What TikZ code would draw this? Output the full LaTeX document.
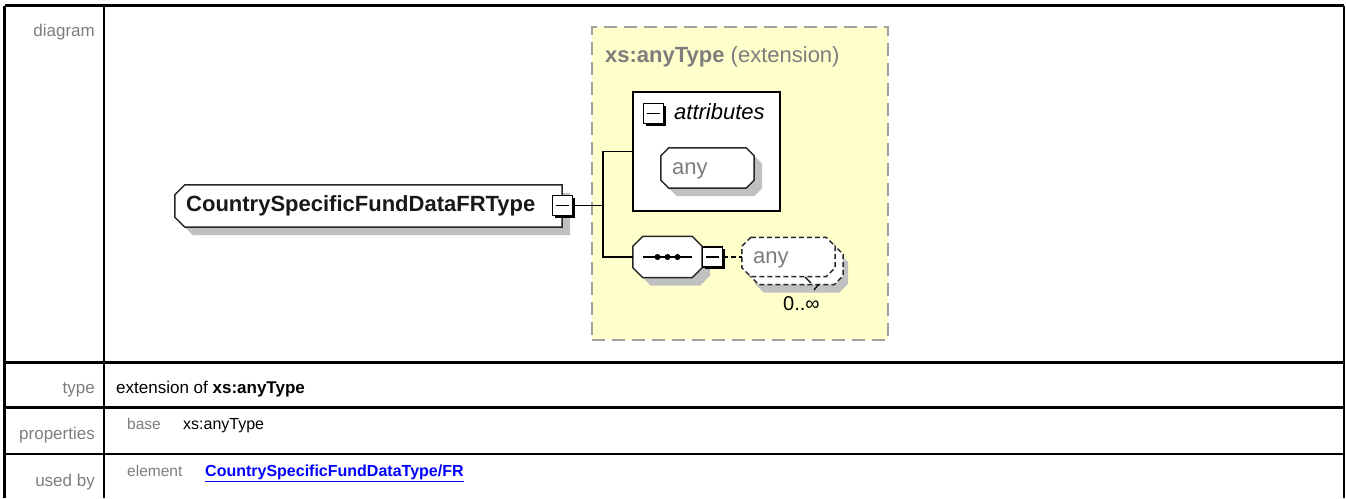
\documentclass[tikz,border=0pt]{standalone}
\usepackage{fontspec}
\setmainfont{Liberation Sans}
\usetikzlibrary{shadows}
\definecolor{panelfill}{RGB}{255,255,204}
\definecolor{panelrule}{RGB}{160,160,160}
\definecolor{labelgray}{RGB}{125,125,125}
\definecolor{shadowgray}{RGB}{192,192,192}
\definecolor{linkblue}{RGB}{0,0,255}
\newcommand{\octpath}[2]{([xshift=#2]#1.north west) -- ([xshift=-#2]#1.north east) -- ([yshift=-#2]#1.north east) -- ([yshift=#2]#1.south east) -- ([xshift=-#2]#1.south east) -- ([xshift=#2]#1.south west) -- ([yshift=#2]#1.south west) -- ([yshift=-#2]#1.north west) -- cycle}
\begin{document}
\begin{tikzpicture}[x=1pt,y=-1pt,rowrule/.style={line width=2.5pt},caption/.style={font=\fontsize{17}{20}\selectfont,text=labelgray,anchor=base east,inner sep=0pt},cell/.style={font=\fontsize{17}{20}\selectfont,anchor=base west,inner sep=0pt},key/.style={font=\fontsize{15.5}{18}\selectfont,text=labelgray,anchor=base west,inner sep=0pt},tag/.style={font=\fontsize{22}{26}\selectfont,anchor=base west,inner sep=0pt},frame/.style={rectangle,inner sep=0pt},octline/.style={draw=black!85,fill=white,line width=1.5pt},octshade/.style={fill=shadowgray,transform canvas={shift={(8pt,-8pt)}}},wild/.style={dash pattern=on 5pt off 3pt},button/.style={rectangle,draw,fill=white,line width=1.8pt,minimum size=20pt,inner sep=0pt,drop shadow={shadow xshift=2pt,shadow yshift=-2pt,fill=black,opacity=1}},link/.style={line width=1.5pt}]
\useasboundingbox (0,0) rectangle (1346,498);
\draw[line width=3pt] (4.5,5.5) -- (1344,5.5);
\draw[rowrule] (4.5,498) -- (4.5,5.5);
\draw[rowrule] (1344,5.5) -- (1344,498);
\draw[rowrule] (104,5.5) -- (104,498);
\draw[rowrule] (4.5,362.5) -- (1344,362.5);
\draw[rowrule] (4.5,407.5) -- (1344,407.5);
\draw[rowrule] (4.5,454) -- (1344,454);
\node[caption] (capdiagram) at (95,36) {diagram};
\node[caption] (captype) at (95,393) {type};
\node[caption] (capprops) at (95,439) {properties};
\node[caption] (capused) at (95,486) {used by};
\node[draw=panelrule,fill=panelfill,line width=2pt,dash pattern=on 13pt off 7pt,minimum width=296pt,minimum height=313pt,inner sep=0pt] (ext) at (740,183.5) {};
\node[tag,text=labelgray] (exttitle) at (605,62) {\textbf{xs:anyType} (extension)};
\node[frame,minimum width=387pt,minimum height=42pt] (elem) at (368.5,206) {};
\fill[octshade] ([xshift=10pt]elem.north west) -- (elem.north east) -- (elem.south east) -- ([xshift=10pt]elem.south west) -- ([yshift=10pt]elem.south west) -- ([yshift=-10pt]elem.north west) -- cycle;
\draw[octline] ([xshift=10pt]elem.north west) -- (elem.north east) -- (elem.south east) -- ([xshift=10pt]elem.south west) -- ([yshift=10pt]elem.south west) -- ([yshift=-10pt]elem.north west) -- cycle;
\node[tag,font=\fontsize{22}{26}\selectfont\bfseries,text=black!90] (elemname) at (186,211) {CountrySpecificFundDataFRType};
\node[button] (elembtn) at (562.5,205.5) {};
\draw[link] ([xshift=4pt]elembtn.west) -- ([xshift=-4pt]elembtn.east);
\node[draw,fill=white,line width=1.6pt,minimum width=147pt,minimum height=119pt,inner sep=0pt] (attrs) at (706.5,151.5) {};
\node[button] (attrbtn) at (653.5,113.5) {};
\draw[link] ([xshift=4pt]attrbtn.west) -- ([xshift=-4pt]attrbtn.east);
\node[tag,font=\fontsize{22}{26}\selectfont\itshape] (attrlabel) at (674,119) {attributes};
\node[frame,minimum width=93pt,minimum height=40pt] (anyattr) at (707.5,168) {};
\fill[octshade] \octpath{anyattr}{8pt};
\draw[octline] \octpath{anyattr}{8pt};
\node[tag,text=labelgray] (anyattrlabel) at (672,174) {any};
\node[frame,minimum width=69pt,minimum height=41pt] (seq) at (667.5,257) {};
\fill[octshade] \octpath{seq}{10pt};
\draw[octline] \octpath{seq}{10pt};
\draw[link] ([xshift=10pt]seq.west) -- ([xshift=-10pt]seq.east);
\foreach \dx in {-10,0,10}
  \fill ([xshift=\dx pt]seq.center) circle (3pt);
\node[button] (seqbtn) at (712.5,257) {};
\draw[link] ([xshift=4pt]seqbtn.west) -- ([xshift=-4pt]seqbtn.east);
\coordinate (fork) at (603,205.5);
\draw[link] (elembtn.east) -- (fork);
\draw[link] (attrs.west) -| (fork) |- (seq.west);
\node[frame,minimum width=93pt,minimum height=39pt] (anyelback) at (796.5,265) {};
\node[frame,minimum width=93pt,minimum height=39pt] (anyel) at (788.5,257) {};
\fill[shadowgray,transform canvas={shift={(5pt,-8pt)}}] \octpath{anyelback}{9pt};
\draw[octline,wild] \octpath{anyelback}{9pt};
\draw[octline,wild] \octpath{anyel}{9pt};
\draw[link,wild] (seqbtn.east) -- (anyel.west);
\node[tag,text=labelgray] (anyellabel) at (753,263) {any};
\draw[line width=1.2pt] (805,277) -- (811,283);
\draw[line width=1.2pt] (819,284) -- (814,290);
\node[tag,font=\fontsize{20}{24}\selectfont] (mult) at (783,310) {0..∞};
\node[cell] (typeval) at (116,393) {extension of \textbf{xs:anyType}};
\node[key] (basekey) at (127,429) {base};
\node[cell,font=\fontsize{16}{19}\selectfont] (baseval) at (183,429) {xs:anyType};
\node[key] (usedkey) at (127,476) {element};
\node[cell,font=\fontsize{16}{19}\selectfont\bfseries,text=linkblue] (usedval) at (205,476) {\underline{CountrySpecificFundDataType/FR}};
\end{tikzpicture}
\end{document}
